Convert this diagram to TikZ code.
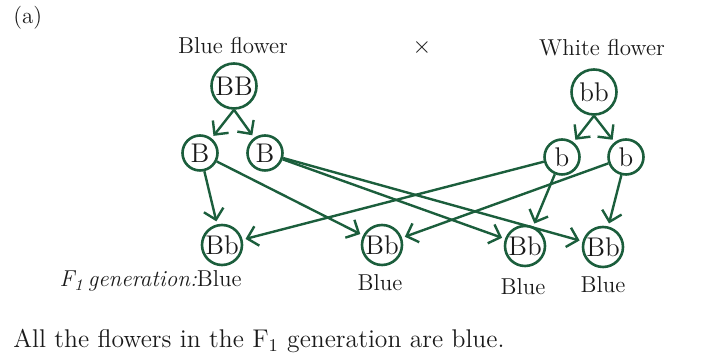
\documentclass[tikz,border=0pt]{standalone}
\usepackage{tikz}
\usetikzlibrary{arrows.meta}
\definecolor{Ink}{HTML}{1A1A1A}
\definecolor{Leaf}{HTML}{1B5E3C}
\tikzset{
  gene/.style={circle,draw=Leaf,line width=1.3pt,inner sep=0pt,text=Ink,font=\fontsize{13.5}{15}\selectfont},
  parent/.style={gene,minimum size=22.5pt},
  gamete/.style={gene,minimum size=17.5pt},
  child/.style={gene,minimum size=20pt},
  lbl/.style={text=Ink,inner sep=0pt,font=\fontsize{11.5}{13}\selectfont},
  cross/.style={-{Straight Barb[length=5pt,width=10pt]},line width=1.2pt,draw=Leaf,shorten >=1.5pt}
}
\begin{document}
\begin{tikzpicture}[x=0.5pt,y=-0.5pt]
  \useasboundingbox (0,0) rectangle (722,356);
  % headings
  \node[lbl,anchor=west] (tag) at (13,18) {(a)};
  \node[lbl] (blueTitle) at (233,46) {Blue flower};
  \node[lbl] (times) at (422,48) {$\times$};
  \node[lbl] (whiteTitle) at (602,48) {White flower};
  % parents
  \node[parent] (BB) at (234,86) {BB};
  \node[parent] (bb) at (594,92) {bb};
  % gametes
  \node[gamete] (B1) at (200,153) {B};
  \node[gamete] (B2) at (265,153) {B};
  \node[gamete] (b1) at (562,157) {b};
  \node[gamete] (b2) at (626,157) {b};
  % offspring
  \node[child] (Bb1) at (222,245) {Bb};
  \node[child] (Bb2) at (382,245) {Bb};
  \node[child] (Bb3) at (525,246) {Bb};
  \node[child] (Bb4) at (603,247) {Bb};
  % meiosis
  \draw[cross] (BB.south) -- (B1);
  \draw[cross] (BB.south) -- (B2);
  \draw[cross] (bb.south) -- (b1);
  \draw[cross] (bb.south) -- (b2);
  % fertilisation
  \draw[cross] (B1) -- (Bb1);
  \draw[cross] (B1) -- (Bb2);
  \draw[cross] (B2) -- (Bb3);
  \draw[cross] (B2) -- (Bb4);
  \draw[cross] (b1) -- (Bb1);
  \draw[cross] (b1) -- (Bb3);
  \draw[cross] (b2) -- (Bb2);
  \draw[cross] (b2) -- (Bb4);
  % phenotypes
  \node[lbl,anchor=east] (f1) at (242,281) {{\itshape F\textsubscript{1}\,generation:}Blue};
  \node[lbl] (blue2) at (380,283) {Blue};
  \node[lbl] (blue3) at (523,287) {Blue};
  \node[lbl] (blue4) at (603,285) {Blue};
  \node[lbl,anchor=west,font=\fontsize{12.8}{15}\selectfont] (note) at (13,341) {All the flowers in the F\textsubscript{1} generation are blue.};
\end{tikzpicture}
\end{document}
